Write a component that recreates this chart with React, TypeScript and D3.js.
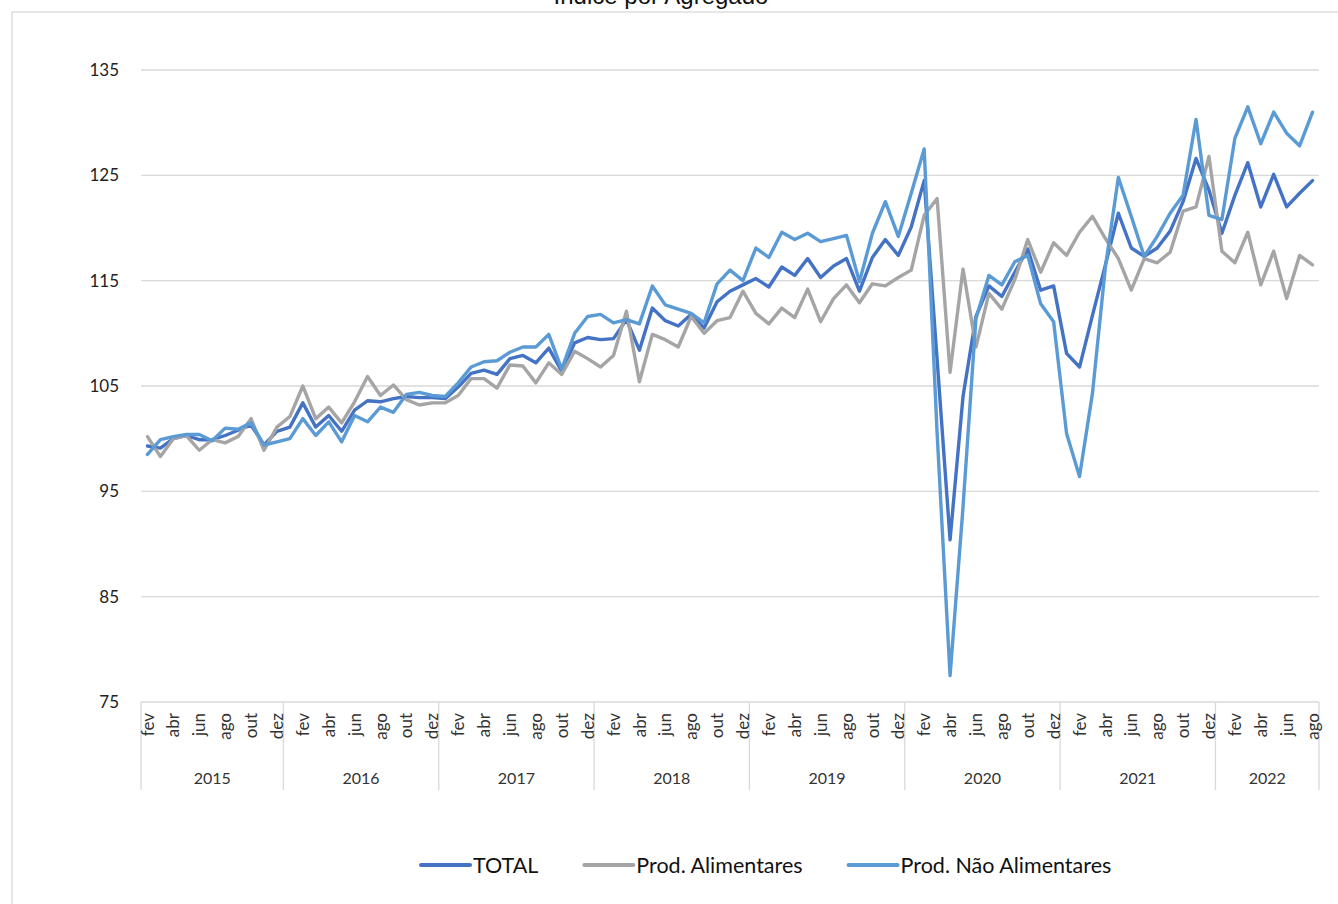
import { useEffect, useRef } from "react";
import * as d3 from "d3";

// months shown on the axis, pt-PT abbreviations
const monthNames = ["jan", "fev", "mar", "abr", "mai", "jun", "jul", "ago", "set", "out", "nov", "dez"];
// [year, first month index, number of months]
const yearSpans: [number, number, number][] = [
  [2015, 1, 11],
  [2016, 0, 12],
  [2017, 0, 12],
  [2018, 0, 12],
  [2019, 0, 12],
  [2020, 0, 12],
  [2021, 0, 12],
  [2022, 0, 8],
];

const yTicks = [75, 85, 95, 105, 115, 125, 135];

// fev 2015 .. ago 2022
const total = [
  99.3, 99.1, 100.0, 100.3, 99.9, 99.9, 100.3, 100.8, 101.3, 99.4, 100.7,
  101.1, 103.4, 101.1, 102.2, 100.7, 102.7, 103.6, 103.5, 103.8, 104.0, 103.9, 103.9,
  103.8, 104.9, 106.2, 106.5, 106.1, 107.6, 107.9, 107.2, 108.6, 106.4, 109.1, 109.6,
  109.4, 109.5, 111.3, 108.4, 112.4, 111.2, 110.7, 111.8, 110.5, 113.0, 114.0, 114.6,
  115.2, 114.4, 116.3, 115.5, 117.1, 115.3, 116.4, 117.1, 114.0, 117.2, 118.9, 117.4,
  120.1, 124.5, 107.5, 90.4, 104.0, 111.6, 114.5, 113.5, 115.8, 118.0, 114.1, 114.5,
  108.1, 106.8, 111.7, 116.5, 121.4, 118.1, 117.3, 118.1, 119.7, 122.5, 126.6, 123.6,
  119.5, 123.1, 126.2, 122.0, 125.1, 122.0, 123.3, 124.5,
];

const alimentares = [
  100.2, 98.3, 100.0, 100.3, 98.9, 99.9, 99.6, 100.2, 101.9, 98.9, 101.1,
  102.1, 105.0, 101.9, 103.0, 101.5, 103.5, 105.9, 104.1, 105.1, 103.7, 103.2, 103.4,
  103.4, 104.1, 105.7, 105.7, 104.8, 107.0, 106.9, 105.3, 107.2, 106.1, 108.3, 107.6,
  106.8, 107.9, 112.1, 105.4, 109.9, 109.4, 108.7, 111.6, 110.0, 111.2, 111.5, 114.0,
  111.9, 110.9, 112.4, 111.5, 114.2, 111.1, 113.3, 114.6, 112.9, 114.7, 114.5, 115.3,
  116.0, 121.2, 122.8, 106.3, 116.1, 108.7, 113.8, 112.3, 115.1, 118.9, 115.8, 118.6,
  117.4, 119.6, 121.1, 119.0, 117.1, 114.1, 117.1, 116.7, 117.7, 121.6, 122.0, 126.8,
  117.8, 116.7, 119.6, 114.6, 117.8, 113.3, 117.4, 116.5,
];

const naoAlimentares = [
  98.5, 99.9, 100.2, 100.4, 100.4, 99.8, 101.0, 100.9, 101.5, 99.4, 99.7,
  100.0, 101.9, 100.3, 101.6, 99.7, 102.2, 101.6, 103.0, 102.5, 104.2, 104.4, 104.1,
  104.0, 105.3, 106.8, 107.3, 107.4, 108.2, 108.7, 108.7, 109.9, 106.6, 110.0, 111.6,
  111.8, 111.0, 111.3, 110.9, 114.5, 112.7, 112.3, 111.9, 111.0, 114.7, 116.0, 115.0,
  118.1, 117.2, 119.6, 118.9, 119.5, 118.7, 119.0, 119.3, 114.9, 119.5, 122.5, 119.2,
  123.3, 127.5, 100.5, 77.5, 93.5, 111.4, 115.5, 114.6, 116.8, 117.4, 112.8, 111.1,
  100.5, 96.4, 104.3, 116.3, 124.8, 121.1, 117.3, 119.2, 121.4, 123.1, 130.3, 121.2,
  120.8, 128.5, 131.5, 128.0, 131.0, 129.0, 127.8, 131.0,
];

const series = [
  { name: "TOTAL", values: total, color: "#4472C4" },
  { name: "Prod. Alimentares", values: alimentares, color: "#A5A5A5" },
  { name: "Prod. Não Alimentares", values: naoAlimentares, color: "#5B9BD5" },
];

const font = "Lato, 'Open Sans', sans-serif";

export default function App() {
  const ref = useRef<SVGSVGElement>(null);

  useEffect(() => {
    const width = 1338;
    const height = 904;
    const left = 141;
    const right = 1319;
    const top = 70;
    const bottom = 702;

    const svg = d3.select(ref.current);
    svg.selectAll("*").remove();

    // category list built from the year spans
    const cats: { year: number; month: number }[] = [];
    yearSpans.forEach(([yr, first, n]) => {
      for (let m = first; m < first + n; m++) cats.push({ year: yr, month: m });
    });

    const x = d3.scaleBand<number>().domain(d3.range(cats.length)).range([left, right]);
    const cx = (i: number) => (x(i) as number) + x.bandwidth() / 2;
    const y = d3.scaleLinear([75, 135], [bottom, top]);

    svg.append("rect")
      .attr("x", 12).attr("y", 12)
      .attr("width", width).attr("height", height)
      .attr("fill", "#fff")
      .attr("stroke", "#d9d9d9")
      .attr("stroke-width", 1.3);

    svg.append("text")
      .attr("x", 661).attr("y", 4)
      .attr("text-anchor", "middle")
      .attr("font-family", "'Liberation Sans', Arial, sans-serif")
      .attr("font-size", 24)
      .attr("fill", "#111")
      .text("Índice por Agregado");

    // gridlines + y labels
    const grid = svg.append("g");
    grid.selectAll("line")
      .data(yTicks)
      .join("line")
      .attr("x1", left).attr("x2", right)
      .attr("y1", d => y(d)).attr("y2", d => y(d))
      .attr("stroke", "#d9d9d9")
      .attr("stroke-width", 1.3);
    grid.selectAll("text")
      .data(yTicks)
      .join("text")
      .attr("x", 119)
      .attr("y", d => y(d))
      .attr("dy", "0.35em")
      .attr("text-anchor", "end")
      .attr("font-family", font)
      .attr("font-size", 17)
      .attr("fill", "#222")
      .text(d => d);

    // year separators
    const bounds: number[] = [];
    let acc = 0;
    bounds.push(0);
    yearSpans.forEach(([, , n]) => { acc += n; bounds.push(acc); });
    const xb = (k: number) => left + k * x.step();
    svg.append("g").selectAll("line")
      .data(bounds)
      .join("line")
      .attr("x1", d => xb(d)).attr("x2", d => xb(d))
      .attr("y1", bottom).attr("y2", 790)
      .attr("stroke", "#d9d9d9")
      .attr("stroke-width", 1.3);

    // month labels, every other category
    svg.append("g").selectAll("text")
      .data(cats.map((c, i) => ({ ...c, i })).filter(c => c.i % 2 === 0))
      .join("text")
      .attr("transform", d => `translate(${cx(d.i)},713) rotate(-90)`)
      .attr("dy", "0.36em")
      .attr("text-anchor", "end")
      .attr("font-family", font)
      .attr("font-size", 17)
      .attr("fill", "#333")
      .text(d => monthNames[d.month]);

    // year labels
    svg.append("g").selectAll("text")
      .data(yearSpans.map((s, k) => ({ year: s[0], a: bounds[k], b: bounds[k + 1] })))
      .join("text")
      .attr("x", d => (xb(d.a) + xb(d.b)) / 2)
      .attr("y", 784)
      .attr("text-anchor", "middle")
      .attr("font-family", font)
      .attr("font-size", 16)
      .attr("fill", "#333")
      .text(d => d.year);

    const line = d3.line<number>()
      .x((_, i) => cx(i))
      .y(d => y(d));

    svg.append("g").selectAll("path")
      .data(series)
      .join("path")
      .attr("fill", "none")
      .attr("stroke", d => d.color)
      .attr("stroke-width", 3.4)
      .attr("stroke-linejoin", "round")
      .attr("stroke-linecap", "round")
      .attr("d", d => line(d.values));

    // legend
    const legend = svg.append("g");
    let lx = 421;
    const ly = 865;
    series.forEach(s => {
      legend.append("line")
        .attr("x1", lx).attr("x2", lx + 49)
        .attr("y1", ly).attr("y2", ly)
        .attr("stroke", s.color)
        .attr("stroke-width", 4)
        .attr("stroke-linecap", "round");
      const t = legend.append("text")
        .attr("x", lx + 52).attr("y", ly)
        .attr("dy", "0.35em")
        .attr("font-family", font)
        .attr("font-size", 21.5)
        .attr("fill", "#111")
        .text(s.name);
      const w = (t.node() as SVGTextElement).getComputedTextLength();
      lx += 52 + w + 46;
    });
  }, []);

  return (
    <svg
      ref={ref}
      width={1338}
      height={904}
      style={{ position: "absolute", left: 0, top: 0 }}
    />
  );
}
